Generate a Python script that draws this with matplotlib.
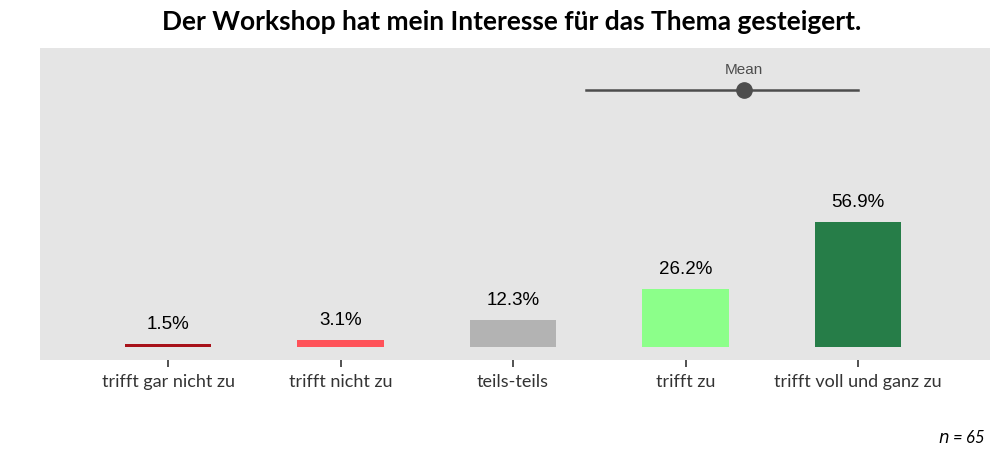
import numpy as np
import matplotlib
matplotlib.use("Agg")
import matplotlib.pyplot as plt

categories = ["trifft gar nicht zu", "trifft nicht zu", "teils-teils", "trifft zu", "trifft voll und ganz zu"]
percents = [1.5, 3.1, 12.3, 26.2, 56.9]
colors = ["#A8121A", "#FF5259", "#B3B3B3", "#8CFF8A", "#267D48"]
n_total = 65
title = "Der Workshop hat mein Interesse für das Thema gesteigert."

x = np.arange(1, len(categories) + 1)
p = np.array(percents) / 100
mean = (x * p).sum() / p.sum()
sd = np.sqrt(((x - mean) ** 2 * p).sum() / p.sum())

fig = plt.figure(figsize=(10, 4.58), dpi=100)
ax = fig.add_axes([0.04, 0.214, 0.95, 0.681])
ax.set_facecolor("#E5E5E5")

ax.bar(x, percents, width=0.5, color=colors)
for xi, v in zip(x, percents):
    ax.annotate(f"{v:.1f}%", (xi, v), xytext=(0, 8), textcoords="offset points",
                ha="center", va="bottom", fontsize=13.5, family="Liberation Sans", color="black")

mean_y = 117
ax.plot([mean - sd, min(mean + sd, 5)], [mean_y, mean_y], color="#4D4D4D", lw=1.8)
ax.plot([mean], [mean_y], "o", color="#4D4D4D", markersize=11)
ax.text(mean, mean_y + 6, "Mean", ha="center", va="bottom", fontsize=11,
        family="Liberation Sans", color="#4D4D4D")

ax.set_xlim(0.258, 5.765)
ax.set_ylim(-5.9, 136)
ax.set_yticks([])
ax.set_xticks(x)
ax.set_xticklabels(categories, fontsize=13, family="Lato", color="#333333")
ax.tick_params(axis="x", length=5, width=1.2, color="#333333", pad=5)
for s in ax.spines.values():
    s.set_visible(False)

fig.text(0.512, 0.953, title, ha="center", va="center", fontsize=19,
         family="Lato", weight="bold")
fig.text(0.986, 0.045, f"$n$ = {n_total}", ha="right", va="center",
         fontsize=12, family="Lato", style="italic")

fig.savefig("out.png", dpi=100)
